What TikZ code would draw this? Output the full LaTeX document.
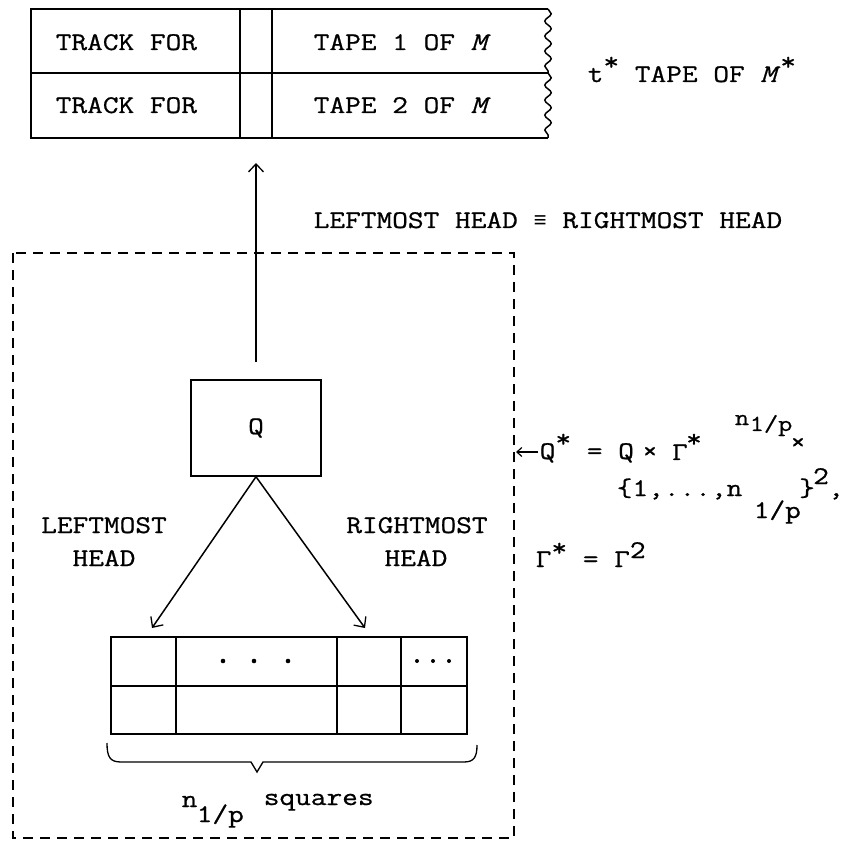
\documentclass[tikz,border=0pt]{standalone}
\usepackage{fontspec}
\newfontfamily\tw{Latin Modern Mono}[FakeStretch=1.2,FakeBold=0.8]
\newfontfamily\twb{Liberation Mono}
\usetikzlibrary{arrows.meta,decorations.pathmorphing}
\begin{document}
\begin{tikzpicture}[x=1pt,y=-1pt,line width=1.5pt,
  txt/.style={font=\tw\fontsize{25.4}{33}\selectfont,inner sep=0pt,anchor=base west},
  ctxt/.style={txt,anchor=base},
  stxt/.style={font=\tw\fontsize{23}{26}\selectfont,inner sep=0pt,anchor=base west},
  barb/.style={-{Straight Barb[length=8pt,width=15pt,line width=1.3pt]}},
  smallbarb/.style={-{Straight Barb[length=5pt,width=9pt,line width=1.2pt]}},
  dashbox/.style={dash pattern=on 10pt off 7pt},
  wavy/.style={decorate,decoration={snake,amplitude=3.2pt,segment length=15pt}},
  qbox/.style={draw,minimum width=130pt,minimum height=96pt,inner sep=0pt,font=\tw\fontsize{25.4}{33}\selectfont},
  bigdot/.style={fill,circle,inner sep=0pt,minimum size=4.6pt},
  smalldot/.style={fill,circle,inner sep=0pt,minimum size=4pt}]
\useasboundingbox (0,0) rectangle (844,842);

% ---- top tape of M* ----
\draw (548,9) -- (31,9) -- (31,138) -- (548,138);
\draw (31,73) -- (548,73);
\draw (240,9) -- (240,138);
\draw (272,9) -- (272,138);
\draw[wavy] (548,9) -- (548,73);
\draw[wavy] (548,73) -- (548,138);
\node[txt] (tf1) at (55,50) {TRACK FOR};
\node[txt] (tf2) at (55,113) {TRACK FOR};
\node[txt] (tp1) at (313,50) {TAPE 1 OF \textit{M}};
\node[txt] (tp2) at (313,113) {TAPE 2 OF \textit{M}};
\node[txt] (tstar) at (587,82) {t\raisebox{12pt}{*} TAPE OF \textit{M}\raisebox{12pt}{*}};
\coordinate (tapehead) at (256,163);

\node[txt] (eqv) at (313,228) {LEFTMOST HEAD {\twb\fontsize{22}{26}\selectfont ≡} RIGHTMOST HEAD};

% ---- dashed finite control box ----
\draw[dashbox] (13,253) rectangle (514,838);
\coordinate (boxedge) at (516,452);

\node[qbox] (Q) at (256,428) {Q};
\draw[barb] ([yshift=17pt]Q.north) -- (tapehead);

\coordinate (lh) at (152,628);
\coordinate (rh) at (365,628);
\draw[barb] (Q.south) -- (lh);
\draw[barb] (Q.south) -- (rh);

\node[ctxt] (lm1) at (104,533) {LEFTMOST};
\node[ctxt] (lm2) at (104,566) {HEAD};
\node[ctxt] (rm1) at (417,533) {RIGHTMOST};
\node[ctxt] (rm2) at (416,566) {HEAD};

% ---- n^{1/p} squares ----
\draw (111,637) rectangle (467,734);
\draw (111,686) -- (467,686);
\draw (176,637) -- (176,734);
\draw (337,637) -- (337,734);
\draw (401,637) -- (401,734);
\node[bigdot] (d1) at (223,661) {};
\node[bigdot] (d2) at (254,661) {};
\node[bigdot] (d3) at (288,661) {};
\node[smalldot] (e1) at (417,661) {};
\node[smalldot] (e2) at (433,661) {};
\node[smalldot] (e3) at (449,661) {};
\draw[line width=1.3pt] (107,743) .. controls (107,757) and (110,762) .. (121,762) -- (251,762) -- (257,772) -- (263,762) -- (464,762) .. controls (474,762) and (477,757) .. (477,745);
\node[txt] (nn) at (181,807) {n};
\node[txt] (np) at (196,822) {1/p};
\node[txt] (sq) at (263,805) {squares};

% ---- formulas ----
\node[txt] (qs) at (539,459) {Q\raisebox{12pt}{*} = Q};
\draw[smallbarb] ([xshift=-1pt]qs.west |- boxedge) -- (boxedge);
\node[ctxt] (x1) at (650,459) {×};
\node[ctxt] (g1) at (680,460) {Γ};
\node[ctxt] (s1) at (694,447) {*};
\node[stxt,anchor=base] (n1) at (742,425) {n};
\node[stxt] (p1) at (749,431) {1/p};
\node[ctxt] (x2) at (798,450) {×};
\node[txt] (l2) at (616,496) {\{1,...,n};
\node[txt] (p2) at (753,518) {1/p};
\node[ctxt] (b2) at (807,496) {\}};
\node[ctxt] (t2) at (821,484) {2};
\node[ctxt] (c2) at (836,496) {,};
\node[txt] (g3) at (535,567) {Γ\raisebox{11pt}{*} = Γ\raisebox{9pt}{2}};
\end{tikzpicture}
\end{document}
